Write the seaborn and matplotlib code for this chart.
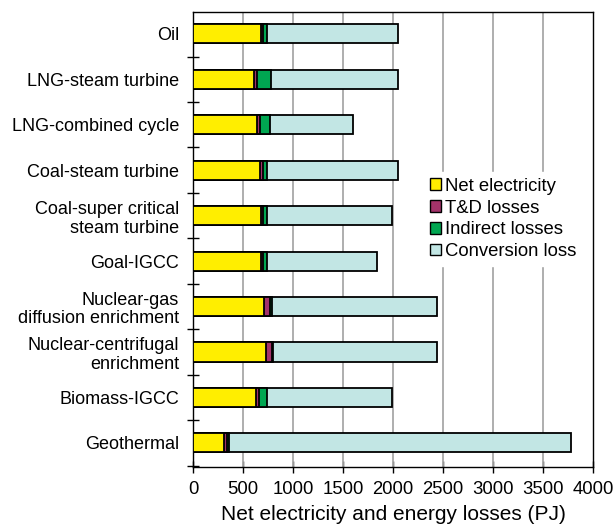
import matplotlib
matplotlib.use("Agg")
import matplotlib.pyplot as plt
import seaborn as sns
import numpy as np
import pandas as pd
from matplotlib.patches import Patch

categories = ["Oil", "LNG-steam turbine", "LNG-combined cycle", "Coal-steam turbine",
              "Coal-super critical\nsteam turbine", "Goal-IGCC",
              "Nuclear-gas\ndiffusion enrichment", "Nuclear-centrifugal\nenrichment",
              "Biomass-IGCC", "Geothermal"]
net_electricity = [680, 610, 640, 670, 675, 675, 705, 730, 630, 310]
td_losses = [20, 25, 25, 30, 25, 25, 60, 55, 25, 25]
indirect_losses = [40, 140, 105, 40, 35, 35, 25, 10, 80, 25]
conversion_loss = [1310, 1275, 830, 1310, 1255, 1105, 1650, 1645, 1255, 3420]
series_names = ["Net electricity", "T&D losses", "Indirect losses", "Conversion loss"]
colors = ["#FFEE00", "#A3336A", "#00A651", "#C2E6E4"]

sns.set_theme(style="white")
plt.rcParams['font.family'] = ['Liberation Sans', 'DejaVu Sans']
plt.rcParams['text.color'] = 'black'
plt.rcParams['xtick.color'] = 'black'
plt.rcParams['ytick.color'] = 'black'
plt.rcParams['axes.labelcolor'] = 'black'

fig = plt.figure(figsize=(6.16, 5.31), dpi=100)
ax = fig.add_axes([193/616, 1-467/531, 400/616, 455/531])

series = [net_electricity, td_losses, indirect_losses, conversion_loss]
cum = np.cumsum(np.array(series), axis=0)
for k in range(3, -1, -1):
    df = pd.DataFrame({"cat": categories, "val": cum[k]})
    sns.barplot(data=df, x="val", y="cat", orient="h", color=colors[k],
                edgecolor="black", linewidth=1.3, width=0.42, ax=ax, zorder=3,
                saturation=1)

ax.set_xlim(0, 4000)
ax.set_ylim(9.53, -0.48)
ax.set_xticks(np.arange(0, 4001, 500))
ax.set_xticklabels([str(v) for v in range(0, 4001, 500)], fontsize=13.3)
ax.set_yticks(range(len(categories)))
ax.set_yticklabels(categories, fontsize=13, ha="right", multialignment="right",
                   linespacing=1.15)
ax.tick_params(axis="y", which="major", length=0, pad=10)
ax.set_yticks(np.arange(-0.5, 9.6, 1.0)[1:], minor=True)
ax.tick_params(axis="y", which="minor", length=8, direction="inout", width=1, color="black", left=True)
ax.tick_params(axis="x", which="major", length=8, direction="inout", width=1, color="black",
               bottom=True, pad=6)
ax.set_xlabel("Net electricity and energy losses (PJ)", fontsize=15, labelpad=5)
ax.set_ylabel("")
ax.grid(False)
for xv in range(500, 4000, 500):
    ax.axvline(xv, color="#A8A8A8", lw=1.3, zorder=1)
for sp in ax.spines.values():
    sp.set_visible(True)
    sp.set_color("black")
    sp.set_linewidth(1.0)

handles = [Patch(facecolor=c, edgecolor="black", linewidth=1.0, label=n)
           for c, n in zip(colors, series_names)]
leg = ax.legend(handles=handles, loc="upper left", bbox_to_anchor=(0.578, 0.648),
                frameon=True, fontsize=13.3, handlelength=0.6, handleheight=0.6,
                handletextpad=0.2, labelspacing=0.26, borderpad=0.3, borderaxespad=0)
leg.get_frame().set_edgecolor("white")
leg.get_frame().set_facecolor("white")
leg.get_frame().set_alpha(1)
leg.set_zorder(5)

fig.savefig("out.png", dpi=100)
